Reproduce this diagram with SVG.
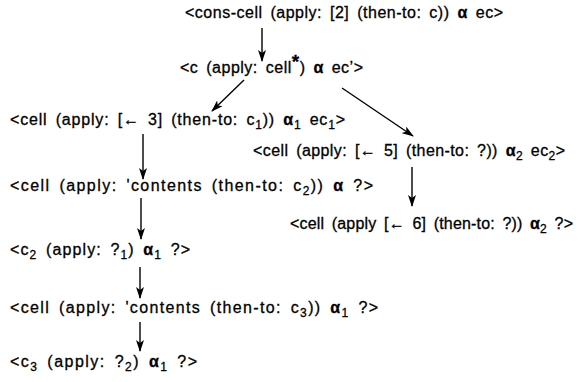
<svg xmlns="http://www.w3.org/2000/svg" width="582" height="382" viewBox="0 0 582 382">
  <defs>
    <marker id="head" viewBox="0 0 12 8" refX="11" refY="4" markerWidth="12" markerHeight="8" markerUnits="userSpaceOnUse" orient="auto">
      <path d="M0,0 L12,4 L0,8 L3,4 Z" fill="#000"/>
    </marker>
    <style>
      text { font-family: "Liberation Sans", "DejaVu Sans", sans-serif; font-size: 16px; fill: #000; stroke: #000; stroke-width: 0.3; word-spacing: 3px; }
      .a { font-weight: bold; }
      .s { font-size: 12px; }
      .st { font-size: 19px; font-weight: bold; }
      .edge { stroke: #000; stroke-width: 1.4; fill: none; marker-end: url(#head); }
    </style>
  </defs>
  <rect width="582" height="382" fill="#fff"/>

  <g id="edges">
    <line class="edge" x1="262" y1="28" x2="262" y2="61"/>
    <line class="edge" x1="244" y1="80" x2="212" y2="111"/>
    <line class="edge" x1="342" y1="88" x2="413" y2="136"/>
    <line class="edge" x1="143" y1="134" x2="143" y2="179"/>
    <line class="edge" x1="412" y1="167" x2="412" y2="206"/>
    <line class="edge" x1="141" y1="198" x2="141" y2="239"/>
    <line class="edge" x1="140" y1="267" x2="140" y2="298"/>
    <line class="edge" x1="140" y1="322" x2="140" y2="351"/>
  </g>

  <g id="n1"><text x="185" y="18" textLength="318" lengthAdjust="spacing">&lt;cons-cell (apply: [2] (then-to: c)) <tspan class="a">α</tspan> ec&gt;</text></g>
  <g id="n2"><text x="180" y="73" textLength="183" lengthAdjust="spacing">&lt;c (apply: cell<tspan class="st" dy="-5">*</tspan><tspan dy="5">) </tspan><tspan class="a">α</tspan> ec’&gt;</text></g>
  <g id="n3"><text x="10" y="125" textLength="335" lengthAdjust="spacing">&lt;cell (apply: [← 3] (then-to: c<tspan class="s" dy="4">1</tspan><tspan dy="-4">)) </tspan><tspan class="a">α</tspan><tspan class="s" dy="4">1</tspan><tspan dy="-4"> ec</tspan><tspan class="s" dy="4">1</tspan><tspan dy="-4">&gt;</tspan></text></g>
  <g id="n4"><text x="253" y="156" textLength="312" lengthAdjust="spacing">&lt;cell (apply: [← 5] (then-to: ?)) <tspan class="a">α</tspan><tspan class="s" dy="4">2</tspan><tspan dy="-4"> ec</tspan><tspan class="s" dy="4">2</tspan><tspan dy="-4">&gt;</tspan></text></g>
  <g id="n5"><text x="10" y="191" textLength="363" lengthAdjust="spacing">&lt;cell (apply: 'contents (then-to: c<tspan class="s" dy="4">2</tspan><tspan dy="-4">)) </tspan><tspan class="a">α</tspan> ?&gt;</text></g>
  <g id="n6"><text x="290" y="229" textLength="283" lengthAdjust="spacing">&lt;cell (apply [← 6] (then-to: ?)) <tspan class="a">α</tspan><tspan class="s" dy="4">2</tspan><tspan dy="-4"> ?&gt;</tspan></text></g>
  <g id="n7"><text x="10" y="255" textLength="180" lengthAdjust="spacing">&lt;c<tspan class="s" dy="4">2</tspan><tspan dy="-4"> (apply: ?</tspan><tspan class="s" dy="4">1</tspan><tspan dy="-4">) </tspan><tspan class="a">α</tspan><tspan class="s" dy="4">1</tspan><tspan dy="-4"> ?&gt;</tspan></text></g>
  <g id="n8"><text x="10" y="313" textLength="368" lengthAdjust="spacing">&lt;cell (apply: 'contents (then-to: c<tspan class="s" dy="4">3</tspan><tspan dy="-4">)) </tspan><tspan class="a">α</tspan><tspan class="s" dy="4">1</tspan><tspan dy="-4"> ?&gt;</tspan></text></g>
  <g id="n9"><text x="10" y="367" textLength="187" lengthAdjust="spacing">&lt;c<tspan class="s" dy="4">3</tspan><tspan dy="-4"> (apply: ?</tspan><tspan class="s" dy="4">2</tspan><tspan dy="-4">) </tspan><tspan class="a">α</tspan><tspan class="s" dy="4">1</tspan><tspan dy="-4"> ?&gt;</tspan></text></g>
</svg>
